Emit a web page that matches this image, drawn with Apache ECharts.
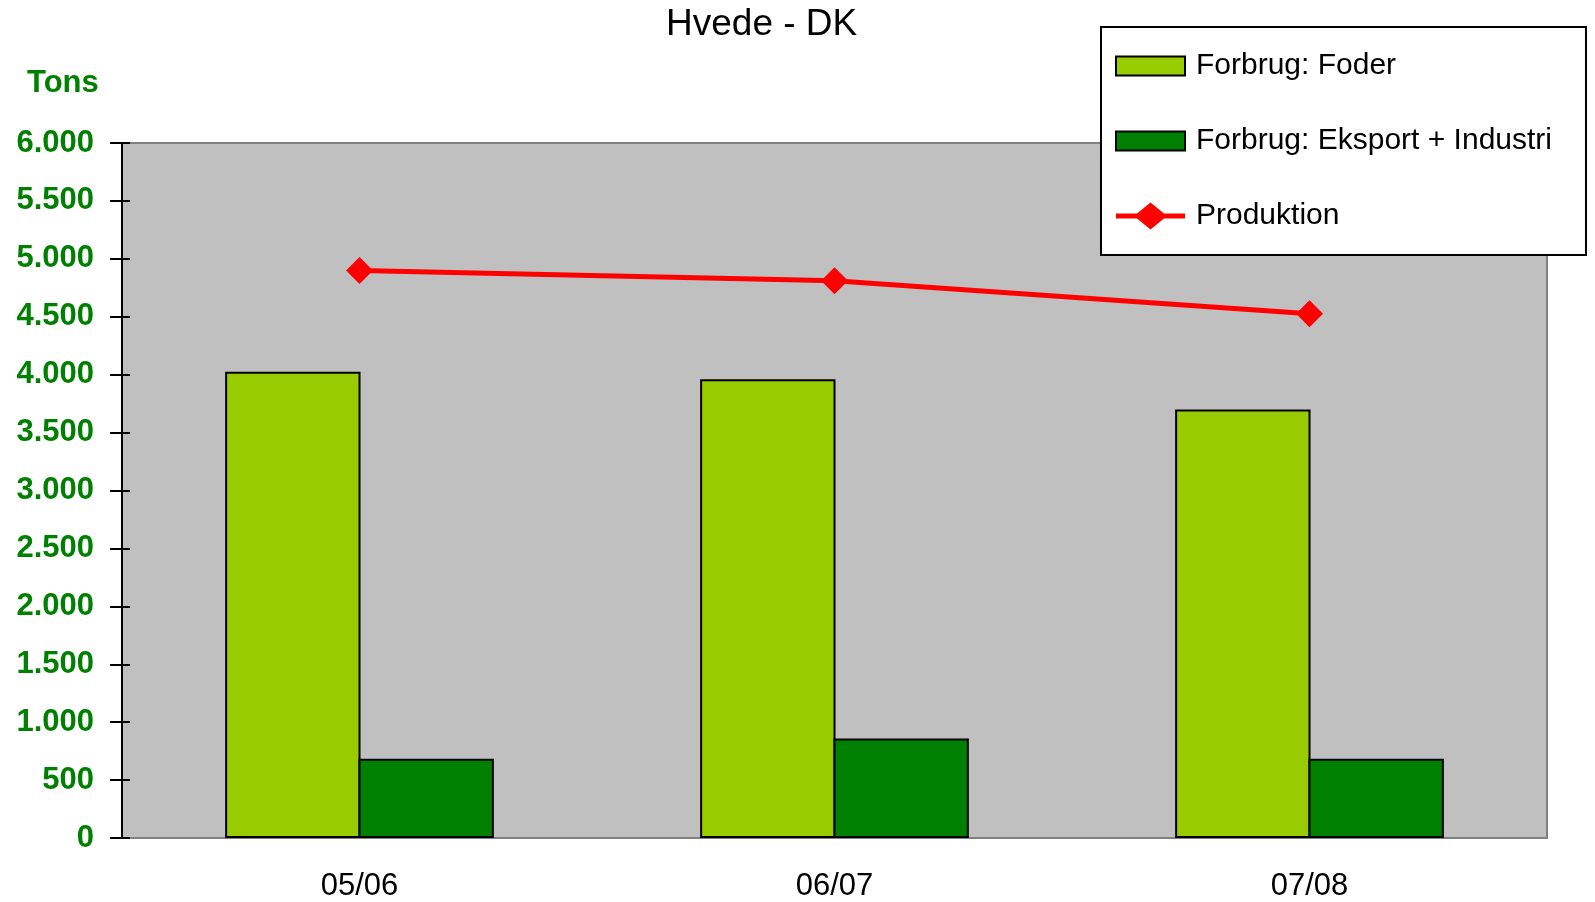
<!DOCTYPE html>
<html>
<head>
<meta charset="utf-8">
<script src="https://cdn.jsdelivr.net/npm/echarts@6/dist/echarts.min.js"></script>
<style>
html,body{margin:0;padding:0;background:#fff;}
#chart{width:1595px;height:902px;}
</style>
</head>
<body>
<div id="chart"></div>
<script>
const categories = ['05/06', '06/07', '07/08'];
const foder = [4025, 3960, 3700];
const eksport = [685, 860, 685];
const produktion = [4900, 4810, 4525];
const yTicks = { min: 0, max: 6000, interval: 500 };

const FONT = "'Liberation Sans', Arial, sans-serif";
function fmt(v) {
  return String(v).replace(/\B(?=(\d{3})+(?!\d))/g, '.');
}

const barIcon = 'path://M0,0 M0,4 L69,4 L69,23 L0,23 Z M69,27';
const lineIcon = 'path://M0,11 L21,11 L34.5,0 L48,11 L69,11 L69,16 L48,16 L34.5,27 L21,16 L0,16 Z';

const chart = echarts.init(document.getElementById('chart'));
chart.setOption({
  backgroundColor: '#ffffff',
  animation: false,
  title: [
    { text: 'Hvede - DK', left: 666, top: 6, padding: 0,
      textStyle: { fontFamily: FONT, fontSize: 37, fontWeight: 'normal', color: '#000', lineHeight: 37 } },
    { text: 'Tons', left: 27, top: 68, padding: 0,
      textStyle: { fontFamily: FONT, fontSize: 31, fontWeight: 'bold', color: '#008000', lineHeight: 31 } }
  ],
  legend: {
    orient: 'vertical',
    left: 1101, top: 27,
    padding: [24, 34, 24, 14],
    itemGap: 45,
    itemWidth: 69, itemHeight: 27,
    backgroundColor: '#ffffff',
    borderColor: '#000000', borderWidth: 2,
    textStyle: { fontFamily: FONT, fontSize: 30, lineHeight: 30, color: '#000', padding: [0, 0, 0, 6] },
    data: [
      { name: 'Forbrug: Foder', icon: barIcon },
      { name: 'Forbrug: Eksport + Industri', icon: barIcon },
      { name: 'Produktion', icon: lineIcon, itemStyle: { color: '#FF0000', borderWidth: 0 } }
    ]
  },
  grid: {
    left: 122, right: 48, top: 143, bottom: 64,
    show: true, backgroundColor: '#C0C0C0', borderColor: '#808080', borderWidth: 2
  },
  xAxis: {
    type: 'category',
    data: categories,
    axisLine: { lineStyle: { color: '#808080', width: 2 } },
    axisTick: { show: false },
    axisLabel: { fontFamily: FONT, fontSize: 31, color: '#000', margin: 33 },
    splitLine: { show: false }
  },
  yAxis: [
    {
      type: 'value', min: yTicks.min, max: yTicks.max, interval: yTicks.interval,
      position: 'left',
      axisLine: { show: true, lineStyle: { color: '#000', width: 2 } },
      axisTick: { show: true, length: 12, lineStyle: { color: '#000', width: 2 } },
      axisLabel: { fontFamily: FONT, fontSize: 31, fontWeight: 'bold', color: '#008000', margin: 28, formatter: fmt },
      splitLine: { show: false }
    },
    {
      type: 'value', min: yTicks.min, max: yTicks.max, interval: yTicks.interval,
      position: 'left',
      axisLine: { show: true, lineStyle: { color: '#000', width: 2 } },
      axisTick: { show: true, inside: true, length: 8, lineStyle: { color: '#000', width: 2 } },
      axisLabel: { show: false },
      splitLine: { show: false }
    }
  ],
  series: [
    {
      name: 'Forbrug: Foder', type: 'bar', data: foder,
      barWidth: '28.5%', barGap: '-1.5%',
      itemStyle: { color: '#99CC00', borderColor: '#000', borderWidth: 2 }
    },
    {
      name: 'Forbrug: Eksport + Industri', type: 'bar', data: eksport,
      barWidth: '28.5%', barGap: '-1.5%',
      itemStyle: { color: '#008000', borderColor: '#000', borderWidth: 2 }
    },
    {
      name: 'Produktion', type: 'line', data: produktion,
      symbol: 'diamond', symbolSize: 27,
      lineStyle: { color: '#FF0000', width: 5 },
      itemStyle: { color: '#FF0000' },
      z: 5
    }
  ]
});
</script>
</body>
</html>
